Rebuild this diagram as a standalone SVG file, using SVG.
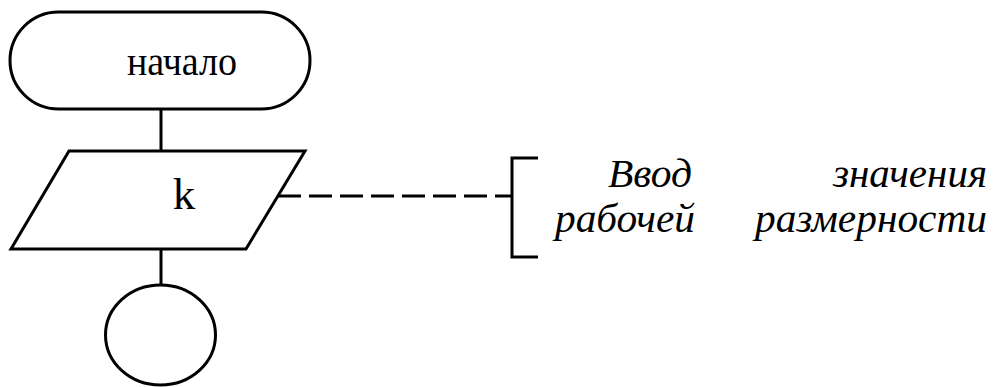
<svg xmlns="http://www.w3.org/2000/svg" width="993" height="387" viewBox="0 0 993 387">
<style>
.s{fill:#fff;stroke:#000;stroke-width:3}
.l{fill:none;stroke:#000;stroke-width:3}
text{fill:#000;font-family:'Liberation Serif','DejaVu Serif','Times New Roman',serif}
.i{font-style:italic;font-size:40px}
</style>
<rect width="993" height="387" fill="#fff"/>
<g id="connectors">
<line class="l" x1="161" y1="109" x2="161" y2="151"/>
<line class="l" x1="161" y1="249" x2="161" y2="285"/>
<line class="l" x1="278" y1="196" x2="512" y2="196" stroke-dasharray="23 8"/>
</g>
<g id="start">
<rect class="s" x="10" y="12" width="300" height="97" rx="48.5"/>
<text x="127" y="75" font-size="40" textLength="110" lengthAdjust="spacingAndGlyphs">начало</text>
</g>
<g id="input">
<polygon class="s" points="69,151 305,151 246,249 11,249"/>
<text x="184" y="209" font-size="45" text-anchor="middle">k</text>
</g>
<g id="connector-end">
<ellipse class="s" cx="160.5" cy="335" rx="55" ry="50"/>
</g>
<g id="comment">
<polyline class="l" points="538,158 512,158 512,257 538,257"/>
<text class="i" x="608" y="187" textLength="84" lengthAdjust="spacingAndGlyphs">Ввод</text>
<text class="i" x="833" y="187" textLength="154" lengthAdjust="spacingAndGlyphs">значения</text>
<text class="i" x="555" y="232" textLength="140" lengthAdjust="spacingAndGlyphs">рабочей</text>
<text class="i" x="755" y="232" textLength="232" lengthAdjust="spacingAndGlyphs">размерности</text>
</g>
</svg>
